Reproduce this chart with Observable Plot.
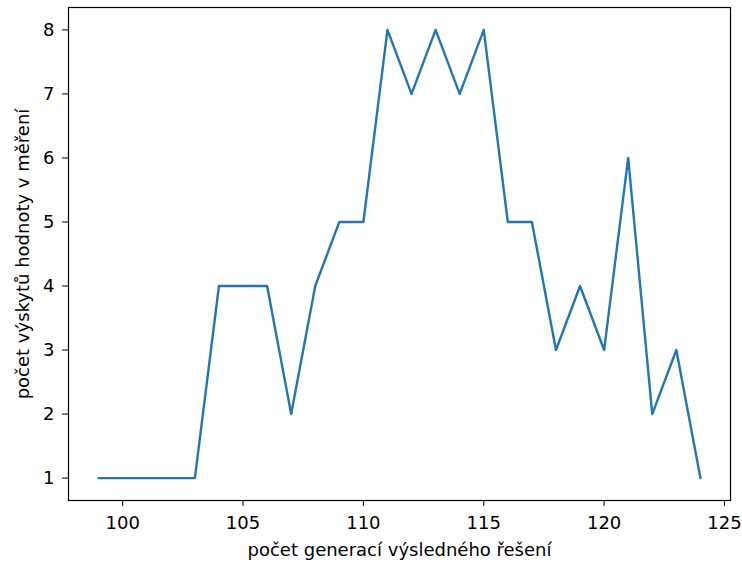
<!DOCTYPE html>
<html>
<head>
<meta charset="utf-8">
<script src="https://cdn.jsdelivr.net/npm/d3@7"></script>
<script src="https://cdn.jsdelivr.net/npm/@observablehq/plot@0.6"></script>
<style>
  html, body { margin: 0; padding: 0; background: #fff; }
  #chart svg { display: block; }
</style>
</head>
<body>
<div id="chart"></div>
<script>
const generations = [99, 100, 101, 102, 103, 104, 105, 106, 107, 108, 109, 110, 111, 112, 113, 114, 115, 116, 117, 118, 119, 120, 121, 122, 123, 124];
const counts = [1, 1, 1, 1, 1, 4, 4, 4, 2, 4, 5, 5, 8, 7, 8, 7, 8, 5, 5, 3, 4, 3, 6, 2, 3, 1];
const xTicks = [100, 105, 110, 115, 120, 125];
const yTicks = [1, 2, 3, 4, 5, 6, 7, 8];
const xLabel = "počet generací výsledného řešení";
const yLabel = "počet výskytů hodnoty v měření";

const data = generations.map((g, i) => ({g, c: counts[i]}));

const chart = Plot.plot({
  width: 742,
  height: 563,
  marginLeft: 68,
  marginRight: 12,
  marginTop: 7,
  marginBottom: 63,
  style: {fontFamily: "DejaVu Sans", fontSize: "18px", color: "#000", background: "#fff"},
  x: {domain: [97.75, 125.25]},
  y: {domain: [0.65, 8.35]},
  marks: [
    Plot.line(data, {x: "g", y: "c", stroke: "#1f77b4", strokeWidth: 2.4}),
    Plot.frame({stroke: "#000", strokeWidth: 1.2}),
    Plot.axisX({ticks: xTicks, tickSize: 6, tickPadding: 10, tickFormat: d => String(d),
      label: xLabel, labelAnchor: "center", labelArrow: "none", labelOffset: 55, fontSize: 18}),
    Plot.axisY({ticks: yTicks, tickSize: 6, tickPadding: 8, tickFormat: d => String(d),
      label: yLabel, labelAnchor: "center", labelArrow: "none", labelOffset: 52, fontSize: 18})
  ]
});
document.getElementById("chart").appendChild(chart);
</script>
</body>
</html>
